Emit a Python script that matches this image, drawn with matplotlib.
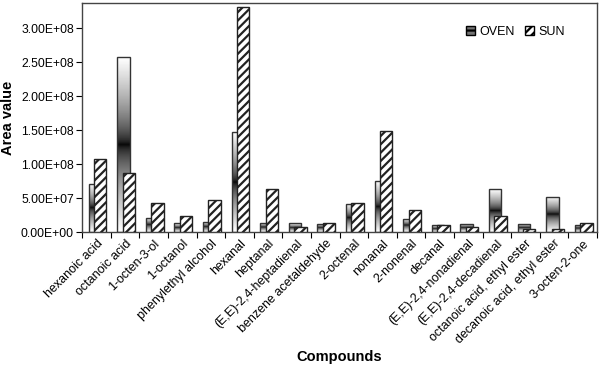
import numpy as np
import matplotlib.pyplot as plt
from matplotlib.patches import Patch
from matplotlib.ticker import FuncFormatter

compounds = ['hexanoic acid', 'octanoic acid', '1-octen-3-ol', '1-octanol',
             'phenylethyl alcohol', 'hexanal', 'heptanal', '(E,E)-2,4-heptadienal',
             'benzene acetaldehyde', '2-octenal', 'nonanal', '2-nonenal', 'decanal',
             '(E,E)-2,4-nonadienal', '(E,E)-2,4-decadienal', 'octanoic acid, ethyl ester',
             'decanoic acid, ethyl ester', '3-octen-2-one']
oven = [7.1e7, 2.57e8, 2.1e7, 1.3e7, 1.55e7, 1.47e8, 1.4e7, 1.3e7, 1.2e7,
        4.2e7, 7.5e7, 1.95e7, 1.0e7, 1.2e7, 6.3e7, 1.25e7, 5.2e7, 1.05e7]
sun = [1.08e8, 8.7e7, 4.3e7, 2.35e7, 4.75e7, 3.31e8, 6.35e7, 8.0e6, 1.3e7,
       4.35e7, 1.49e8, 3.3e7, 1.0e7, 7.0e6, 2.35e7, 5.0e6, 4.5e6, 1.3e7]

plt.rcParams['font.family'] = ['Liberation Sans', 'DejaVu Sans']
plt.rcParams['hatch.linewidth'] = 1.6

fig = plt.figure(figsize=(6, 3.78), dpi=100)
ax = fig.add_axes([0.137, 0.386, 0.858, 0.606])

x = np.arange(len(compounds))
w = 0.43
ymax = 3.37e8

# vertical gradient for OVEN bars: white at ends, black in the middle
t = np.linspace(0, 1, 200)
grad = (np.abs(2 * t - 1) ** 0.6).reshape(-1, 1)

oven_bars = ax.bar(x - 0.06, oven, w, facecolor='none', edgecolor='#333333',
                   linewidth=1.0, zorder=2)
for b in oven_bars:
    x0 = b.get_x()
    h = b.get_height()
    im = ax.imshow(grad, cmap='gray', vmin=0, vmax=1, aspect='auto',
                   extent=[x0, x0 + w, 0, h], origin='lower', zorder=1.5,
                   interpolation='bilinear')
    im.set_clip_path(b)

ax.bar(x + 0.13, sun, w, facecolor='white', edgecolor='#222222', hatch='////',
       linewidth=1.0, zorder=3)

ax.set_xlim(-0.5, len(compounds) - 0.5)
ax.set_ylim(0, ymax)

# ticks sit between categories, labels at the centres
ax.set_xticks(np.arange(-0.5, len(compounds), 1.0))
ax.set_xticklabels([])
ax.set_xticks(x, minor=True)
ax.set_xticklabels(compounds, minor=True, rotation=45, ha='right',
                   rotation_mode='anchor', fontsize=9)
ax.tick_params(axis='x', which='minor', length=0, pad=4)
ax.tick_params(axis='x', which='major', length=4, direction='out')

ax.set_yticks(np.arange(0, 3.01e8, 5e7))
ax.yaxis.set_major_formatter(FuncFormatter(lambda v, p: f'{v:.2E}'))
ax.tick_params(axis='y', labelsize=8.7, length=4, direction='out', pad=2)

for s in ax.spines.values():
    s.set_color('#444444')
    s.set_linewidth(1.0)

ax.set_xlabel('Compounds', fontsize=10.5, fontweight='bold')
ax.set_ylabel('Area value', fontsize=10.5, fontweight='bold')
ax.xaxis.set_label_coords(0.5, -0.515)
ax.yaxis.set_label_coords(-0.13, 0.5)

handles = [Patch(facecolor='0.45', edgecolor='black', hatch='---', label='OVEN'),
           Patch(facecolor='white', edgecolor='black', hatch='////', label='SUN')]
ax.legend(handles=handles, loc='upper right', bbox_to_anchor=(0.96, 0.95),
          ncol=2, frameon=False, fontsize=9, handlelength=0.7, handleheight=0.7,
          handletextpad=0.4, columnspacing=0.8)

fig.savefig('out.png', dpi=100)
